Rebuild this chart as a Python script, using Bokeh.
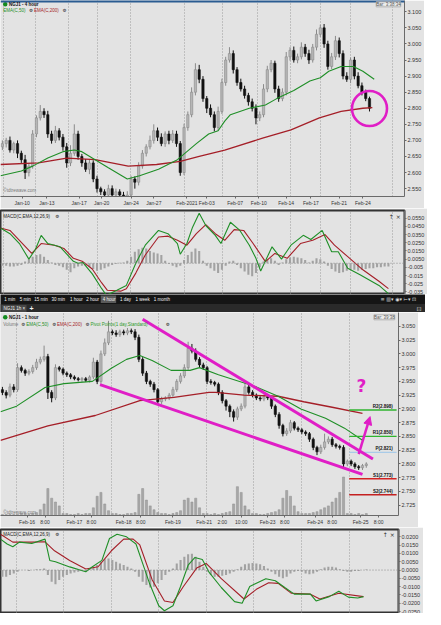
from bokeh.plotting import figure
from bokeh.layouts import column
from bokeh.models import (Range1d, FixedTicker, Span, Label, Arrow, NormalHead, Grid,
                          CustomJSTickFormatter)
from bokeh.embed import file_html
from bokeh.resources import INLINE

FONT = "Liberation Sans"
SYM = "DejaVu Sans"
BG = "#e3e3e3"
GREEN = "#1f8f27"
RED = "#a51f28"
MAG = "#e01ec6"
UPC, UPL, DNC = "#b6b6b6", "#8a8a8a", "#111111"

# ================= 4-hour chart (NGJ1) =================
h4_first_open = 2.68
h4_close = [2.69, 2.70, 2.67, 2.69, 2.66, 2.64, 2.60, 2.62, 2.72, 2.77,
            2.79, 2.78, 2.72, 2.70, 2.73, 2.71, 2.68, 2.63, 2.66, 2.72,
            2.65, 2.63, 2.61, 2.63, 2.58, 2.55, 2.54, 2.53, 2.55, 2.53,
            2.54, 2.53, 2.52, 2.53, 2.58, 2.57, 2.62, 2.66, 2.68, 2.70,
            2.73, 2.71, 2.69, 2.72, 2.70, 2.72, 2.69, 2.60, 2.74, 2.78,
            2.85, 2.92, 2.89, 2.83, 2.80, 2.78, 2.74, 2.79, 2.88, 2.95,
            2.97, 2.92, 2.88, 2.86, 2.84, 2.82, 2.80, 2.77, 2.78, 2.86,
            2.92, 2.94, 2.86, 2.83, 2.85, 2.96, 2.98, 2.95, 2.96, 2.99,
            2.97, 2.95, 2.99, 3.03, 3.05, 3.00, 2.93, 2.96, 3.01, 2.97,
            2.90, 2.89, 2.95, 2.90, 2.87, 2.85, 2.83, 2.80]
# upper / lower wick lengths in thousandths
h4_up = [10, 8, 12, 6, 10, 8, 15, 10, 12, 8, 20, 10, 12, 10, 15, 8, 10, 12, 25, 30,
         10, 8, 12, 10, 8, 10, 6, 8, 12, 10, 10, 8, 10, 12, 10, 8, 12, 10, 8, 15,
         20, 10, 12, 8, 10, 12, 10, 8, 12, 10, 15, 20, 15, 10, 8, 12, 10, 15, 12, 10,
         20, 10, 8, 12, 10, 8, 10, 12, 10, 15, 12, 10, 8, 10, 12, 15, 10, 12, 10, 15,
         10, 12, 10, 15, 10, 12, 10, 12, 15, 10, 10, 12, 8, 10, 12, 10, 8, 6]
h4_dn = [10, 12, 8, 10, 15, 10, 20, 12, 8, 10, 8, 10, 12, 10, 8, 10, 12, 15, 10, 8,
         10, 12, 8, 15, 10, 12, 10, 12, 8, 10, 12, 10, 8, 10, 12, 20, 10, 8, 10, 8,
         10, 12, 8, 10, 12, 8, 10, 10, 8, 10, 8, 10, 12, 10, 15, 8, 12, 10, 8, 10,
         8, 12, 10, 8, 10, 12, 10, 20, 10, 8, 10, 8, 12, 10, 8, 10, 12, 8, 10, 8,
         10, 12, 8, 10, 8, 12, 10, 8, 10, 12, 10, 8, 12, 10, 8, 10, 8, 10]
h4_ema50_x = [-0.5, 5, 8, 12, 16, 19, 21, 24.5, 28, 33, 36.25, 41.25, 46.25, 51.25, 54.5,
              57, 58.75, 60.25, 65.25, 69.5, 72.5, 77, 81.25, 84, 86.25, 89.5, 92.75, 95.25, 98.25]
h4_ema50 = [2.59, 2.605, 2.62, 2.645, 2.665, 2.67, 2.665, 2.64, 2.615, 2.58, 2.59, 2.61, 2.64,
            2.69, 2.72, 2.73, 2.76, 2.78, 2.80, 2.81, 2.83, 2.855, 2.885, 2.895, 2.915, 2.93,
            2.93, 2.915, 2.89]
h4_ema200_x = [-0.5, 9.5, 17, 24.5, 33.25, 40.75, 47, 52, 58.75, 68.75, 76.25, 83.75, 89.5, 95.25, 97.75]
h4_ema200 = [2.625, 2.63, 2.645, 2.64, 2.62, 2.625, 2.635, 2.65, 2.67, 2.707, 2.733, 2.77, 2.79, 2.80, 2.802]
h4_tick_pos = [5.25, 11.75, 20.25, 26.25, 34, 40, 48.75, 54, 61.5, 67.75, 75, 81.5, 89, 95.25]
h4_tick_lab = ["Jan-10", "Jan-13", "Jan-17", "Jan-20", "Jan-24", "Jan-27", "Feb-2021", "Feb-03",
               "Feb-07", "Feb-10", "Feb-14", "Feb-17", "Feb-21", "Feb-24"]
h4_grid = [0.25, 8.75, 17.5, 25.25, 33.75, 48.25, 58.25, 67.5, 76, 84, 92, 103]
h4_price_ticks = [2.55, 2.60, 2.65, 2.70, 2.75, 2.80, 2.85, 2.90, 2.95, 3.00, 3.05, 3.10]
h4_last = ["2.8000", "2.795"]
h4_circle = (97, 2.799)

h4_macd_x = [-0.5, 2, 4.5, 7, 8.75, 10.25, 12, 15.25, 18.75, 20, 21.25, 23.75, 26.25, 27.5, 30.25,
             32.75, 35.25, 37.75, 41.25, 43.75, 46.25, 47, 48.75, 50.25, 52, 53.75, 56.25, 57.75,
             60.25, 62.75, 65.25, 67, 68.25, 71.25, 73.75, 76.25, 79.5, 81.5, 84.5, 87, 88.75,
             91.25, 94.5, 99.5, 102]
h4_macd = [0.043, 0.036, 0.024, 0.005, 0.017, 0.034, 0.024, 0.020, 0.0024, 0.0, 0.001, -0.013,
           -0.031, -0.039, -0.033, -0.027, 0.0, 0.022, 0.040, 0.036, 0.024, 0.011, 0.024, 0.044,
           0.061, 0.046, 0.034, 0.024, 0.050, 0.040, 0.022, 0.006, -0.0095, 0.020, 0.005, 0.022,
           0.034, 0.029, 0.040, 0.014, 0.014, -0.006, -0.014, -0.027, -0.037]
h4_sig_x = [-0.5, 2, 4.5, 7.75, 10.25, 13.75, 16.25, 18.75, 21.25, 23.75, 26.25, 27.75, 31.25,
            32.75, 35.25, 37.75, 41.25, 43.75, 46.25, 48.75, 51.25, 53.75, 56.25, 58.75, 61.25,
            63.75, 66.25, 69.5, 72, 75.25, 78.75, 82, 85.25, 87.75, 91.25, 95.25, 99.5, 102]
h4_sig = [0.043, 0.040, 0.028, 0.012, 0.024, 0.022, 0.018, 0.006, 0.002, -0.007, -0.024, -0.033,
          -0.034, -0.031, -0.012, 0.010, 0.032, 0.033, 0.028, 0.022, 0.036, 0.047, 0.036, 0.028,
          0.041, 0.040, 0.024, 0.002, 0.012, 0.006, 0.024, 0.028, 0.035, 0.022, 0.008, -0.008,
          -0.022, -0.031]
# histogram, thousandths
h4_hist = [-3, -3, -4, -4, -3, -2, 2, 5, 8, 10, 11, 8, 4, 1, -2, -3, -5, -8, -11, -6,
           -4, -3, -3, -5, -7, -9, -8, -6, -4, -2, -1, 0.5, 1, 3, 8, 14, 17, 19, 18, 15,
           13, 12, 10, 3, -1, -3, -5, -3, 4, 10, 14, 18, 15, 3, -3, -6, -9, -12, -8, -3,
           2, 3, -2, -6, -10, -14, -16, -12, -5, 2, 5, 6, 3, -2, 1, 5, 7, 8, 7, 6,
           4, 1, 3, 6, 5, 2, -3, -7, -10, -12, -11, -9, -8, -8, -9, -8, -7, -6, -6, -5,
           -5, -4, -4]
h4_macd_ticks = [-0.035, -0.025, -0.015, -0.005, 0.005, 0.015, 0.025, 0.035, 0.045, 0.055]

# ================= 1-hour chart (NGJ1) =================
h1_first_open = 2.935
h1_close = [2.930, 2.925, 2.940, 2.935, 2.975, 2.970, 2.965, 2.968, 2.975, 2.985,
            2.990, 2.995, 2.930, 2.920, 2.975, 2.972, 2.965, 2.962, 2.958, 2.955,
            2.953, 2.955, 2.952, 2.958, 2.985, 2.950, 3.000, 3.020, 3.040, 3.038,
            3.035, 3.040, 3.038, 3.042, 3.040, 3.030, 2.990, 2.965, 2.950, 2.945,
            2.935, 2.913, 2.918, 2.920, 2.925, 2.935, 2.950, 2.960, 2.975, 3.010,
            3.005, 2.990, 2.980, 2.975, 2.950, 2.948, 2.945, 2.930, 2.915, 2.905,
            2.895, 2.885, 2.900, 2.905, 2.940, 2.930, 2.925, 2.920, 2.918, 2.922,
            2.920, 2.905, 2.890, 2.870, 2.855, 2.860, 2.875, 2.865, 2.862, 2.858,
            2.855, 2.845, 2.830, 2.822, 2.830, 2.840, 2.845, 2.835, 2.832, 2.830,
            2.800, 2.805, 2.800, 2.795, 2.793, 2.797, 2.800]
h1_up = [5, 4, 6, 5, 8, 4, 3, 4, 5, 6, 5, 20, 5, 4, 6, 3, 3, 3, 3, 3,
         3, 3, 3, 3, 8, 4, 6, 8, 20, 4, 5, 4, 4, 5, 4, 5, 5, 4, 4, 3,
         4, 3, 4, 3, 4, 5, 4, 5, 6, 12, 8, 5, 4, 4, 3, 4, 3, 3, 4, 3,
         3, 4, 4, 5, 10, 5, 4, 3, 3, 4, 4, 3, 3, 4, 3, 5, 5, 3, 3, 3,
         3, 3, 3, 3, 5, 15, 5, 4, 3, 3, 4, 3, 3, 3, 3, 3, 3]
h1_dn = [5, 6, 4, 5, 4, 4, 5, 4, 4, 4, 4, 4, 12, 8, 4, 4, 4, 4, 4, 3,
         3, 4, 3, 4, 4, 5, 4, 4, 4, 4, 4, 4, 4, 4, 4, 5, 5, 5, 5, 5,
         5, 6, 4, 4, 4, 4, 4, 4, 4, 4, 4, 4, 4, 4, 5, 4, 4, 5, 5, 8,
         10, 8, 5, 4, 4, 4, 4, 4, 4, 4, 4, 5, 5, 6, 5, 4, 4, 4, 4, 4,
         4, 5, 5, 6, 4, 4, 4, 4, 4, 4, 8, 4, 4, 4, 4, 4, 4]
h1_vol = [1, 1, 1, 1, 1, 2, 2, 1, 2, 3, 6, 12, 28, 18, 14, 10, 2, 2, 1, 1, 2, 1, 2, 2,
          8, 20, 24, 12, 5, 2, 2, 1, 1, 2, 2, 3, 22, 28, 16, 10, 6, 3, 2, 2, 1, 2, 3, 5,
          16, 18, 14, 18, 8, 2, 2, 1, 2, 1, 2, 3, 4, 12, 30, 24, 10, 6, 2, 2, 1, 1, 2, 3,
          4, 6, 18, 26, 20, 10, 4, 2, 2, 2, 3, 4, 6, 8, 10, 14, 18, 24, 40, 2, 2, 1, 2, 1, 2]
h1_ema50_x = [-0.5, 3.75, 11.25, 16.25, 23.75, 28.75, 32.75, 36.25, 39.5, 44.5, 49.5, 52, 57, 67,
              72.75, 78.75, 85.25, 90.25, 95]
h1_ema50 = [2.895, 2.905, 2.939, 2.946, 2.95, 2.974, 2.99, 2.997, 2.988, 2.97, 2.97, 2.975, 2.962,
            2.94, 2.923, 2.90, 2.883, 2.865, 2.843]
h1_ema200_x = [-0.5, 12, 24.5, 36.25, 45.25, 54.5, 56.25, 63.75, 72.75, 79.5, 87, 95]
h1_ema200 = [2.843, 2.869, 2.888, 2.915, 2.921, 2.93, 2.93, 2.925, 2.923, 2.913, 2.903, 2.892]
h1_tick_pos = [6.5, 11.25, 19, 23.5, 32, 36.5, 45, 53.25, 58, 63, 70, 74.5, 82.5, 87, 94.5, 99.25]
h1_tick_lab = ["Feb-16", "8:00", "Feb-17", "8:00", "Feb-18", "8:00", "Feb-19", "Feb-21", "2:00",
               "10:00", "Feb-23", "8:00", "Feb-24", "8:00", "Feb-25", "8:00"]
h1_grid = [3.75, 16.25, 28.75, 41.25, 53.75, 66.25, 79, 91.5]
h1_price_ticks = [2.725, 2.750, 2.775, 2.800, 2.825, 2.850, 2.875, 2.900, 2.925, 2.950, 2.975,
                  3.000, 3.025, 3.050]
h1_last = ["2.8000", "2.795"]
pivot_names = ["R2", "R1", "P", "S1", "S2"]
pivot_levels = [2.898, 2.850, 2.821, 2.773, 2.744]
pivot_colors = ["#2fb52f", "#2fb52f", "#a9cbe8", "#d32222", "#c42020"]
pivot_span = [91.5, 104]
wedge_upper_x, wedge_upper_y = [37, 97.75], [3.063, 2.809]
wedge_lower_x, wedge_lower_y = [25.75, 95], [2.944, 2.781]
arrow_from, arrow_to = (94, 2.818), (97, 2.886)
question_at = (94.75, 2.941)

h1_macd_x = [-0.5, 1.25, 2.75, 4.5, 7.75, 11.25, 12.5, 14, 17.75, 22, 23.75, 26.25, 28.25, 30.25,
             32.75, 35.25, 37, 38.75, 41.25, 42.75, 45, 47, 49, 50.75, 52.75, 54.5, 57.75, 61.25,
             63.25, 65.25, 69.5, 72, 74.5, 77, 81.25, 82.75, 86.25, 88.75, 91.25, 93.75, 95.25]
h1_macd = [0.0186, 0.0157, 0.014, 0.0168, 0.016, 0.0186, 0.0058, 0.005, 0.0019, -0.001, 0.002,
           0.0058, 0.019, 0.0215, 0.020, 0.0157, 0.004, -0.0076, -0.0215, -0.0245, -0.0215,
           -0.0099, 0.0029, 0.0075, 0.0064, -0.0012, -0.0105, -0.019, -0.020, -0.0099, -0.0052,
           -0.0064, -0.0105, -0.0145, -0.0145, -0.0186, -0.016, -0.0128, -0.0163, -0.0168, -0.016]
h1_sig_x = [-0.5, 2.75, 7.75, 11.25, 13.75, 17.75, 22, 25.25, 28.75, 32, 34.5, 36.25, 39.5, 42.75,
            45, 47.75, 51.25, 53.75, 57.75, 63.75, 67, 70.25, 72.75, 76.25, 81.25, 83.75, 88.75, 95.25]
h1_sig = [0.0215, 0.0168, 0.0168, 0.017, 0.0116, 0.0058, 0.0006, 0.002, 0.0116, 0.0186, 0.0186,
          0.0151, -0.0058, -0.0186, -0.0195, -0.0099, 0.0012, 0.004, -0.0052, -0.0174, -0.0116,
          -0.0076, -0.008, -0.014, -0.0145, -0.0174, -0.014, -0.016]
h1_hist = [-4, -4, -3, -2, -1, 0, 0, -0.5, 0, 0.5, 0.5, 1,
           -3, -7, -8.5, -6, -4, -3, -2, -1.5, -1, -0.5, -0.5, 0.5, 1.5,
           3, 5, 6.5, 7, 6, 5, 4, 3, 2, 1, -1, -4,
           -7, -9, -10.5, -10, -8, -6, -3, -1, 1, 4, 6, 8,
           9.5, 9.8, 8, 5, 2, -1, -3, -4, -4, -3.5, -3, -2,
           -1, 0.5, 2, 3.5, 4, 4.2, 4, 3.5, 2.5, 1, -1, -2.5,
           -4, -5, -4, -2, -1, -0.5, -1, -2, -2.5, -2, -1, 0.5,
           1.5, 2, 2, 1.5, 0.5, -0.5, -1, -1, -0.5, -0.5, 0, 0.3]
h1_macd_ticks = [-0.025, -0.02, -0.015, -0.01, -0.005, 0.0, 0.005, 0.01, 0.015, 0.02]

timeframes = ["1 min", "5 min", "15 min", "30 min", "1 hour", "2 hour", "4 hour", "1 day",
              "1 week", "1 month"]


# ---------------- placement helpers for annotations (reference pixels) ----------------
def px_x(px):
    return (px - 2) / 4.0


def h4_y(py):
    return 3.0 - (py - 47) / 333.0


def h1_y(py):
    return 3.0 - (py - 361) / 572.0


def m4_y(py):
    return (267 - py) / 840.0


def m1_y(py):
    return (580 - py) * 0.000581


def xfmt(pos, lab):
    return CustomJSTickFormatter(args=dict(pos=pos, lab=lab), code="""
        for (let i = 0; i < pos.length; i++) { if (Math.abs(pos[i] - tick) < 1e-6) return lab[i]; }
        return "";""")


def make_fig(fw, fh, xr, yr, xaxis, yticks, ycode, grid_pos, xpos=None, xlab=None):
    p = figure(frame_width=fw, frame_height=fh, x_range=xr, y_range=yr,
               y_axis_location="right", x_axis_location="below" if xaxis else None,
               toolbar_location=None, output_backend="svg",
               background_fill_color=BG, border_fill_color=BG,
               min_border_left=0, min_border_right=0, min_border_top=0, min_border_bottom=0)
    p.xgrid.visible = False
    p.ygrid.visible = False
    p.add_layout(Grid(dimension=0, ticker=FixedTicker(ticks=grid_pos), grid_line_color="#9a9a9a",
                      grid_line_dash="1 2", grid_line_width=1))
    ax = p.yaxis[0]
    ax.ticker = FixedTicker(ticks=yticks)
    ax.formatter = CustomJSTickFormatter(code=ycode)
    for a in [ax] + (list(p.xaxis) if xaxis else []):
        a.major_label_text_font = FONT
        a.major_label_text_font_size = "5.5px"
        a.major_label_text_color = "#333333"
        a.major_tick_in = 0
        a.major_tick_out = 2
        a.minor_tick_in = 0
        a.minor_tick_out = 0
        a.major_label_standoff = 1
        a.axis_line_color = "#6a6a6a"
        a.major_tick_line_color = "#6a6a6a"
    if xaxis:
        xa = p.xaxis[0]
        xa.ticker = FixedTicker(ticks=xpos)
        xa.formatter = xfmt(xpos, xlab)
        xa.major_label_text_font_size = "5px"
    p.outline_line_color = None
    return p


def draw_candles(p, close, up, dn, first_open, w):
    n = len(close)
    x = list(range(n))
    o = [first_open] + close[:-1]
    top = [max(a, b) for a, b in zip(o, close)]
    bot = [min(a, b) for a, b in zip(o, close)]
    bot = [b if t - b > 0.0015 else t - 0.0015 for t, b in zip(top, bot)]
    hi = [t + u / 1000 for t, u in zip(top, up)]
    lo = [b - d / 1000 for b, d in zip(bot, dn)]
    rising = [c >= a for a, c in zip(o, close)]
    fill = [UPC if r else DNC for r in rising]
    line = [UPL if r else DNC for r in rising]
    p.segment(x0=x, y0=lo, x1=x, y1=hi, line_color=line, line_width=1)
    p.vbar(x=x, width=w, top=top, bottom=bot, fill_color=fill, line_color=line, line_width=0.6)


def label(p, x, y, text, color="#222222", size="4.5px", bold=False, font=FONT, align="left",
          baseline="middle", **kw):
    p.add_layout(Label(x=x, y=y, text=text, text_color=color, text_font_size=size,
                       text_font=font, text_font_style="bold" if bold else "normal",
                       text_align=align, text_baseline=baseline, **kw))


def legend_row(p, items, px_start, y, gap=2.5, cw=2.75):
    px = px_start
    for text, color, font in items:
        label(p, px_x(px), y, text, color=color, font=font)
        px += len(text) * cw + gap


GEAR = "\u2699"

# ================= top price (4 hour) =================
xr4 = Range1d(-0.5, 106.25)
p1 = make_fig(404, 196, xr4, Range1d(h4_y(205), h4_y(2)), True, h4_price_ticks,
              "return tick.toFixed(3);", h4_grid, h4_tick_pos, h4_tick_lab)
p1.add_layout(Span(location=h4_y(2), dimension="width", line_color="#2b5c91", line_width=4))
draw_candles(p1, h4_close, h4_up, h4_dn, h4_first_open, 0.6)
p1.line(h4_ema200_x, h4_ema200, line_color=RED, line_width=1.3)
p1.line(h4_ema50_x, h4_ema50, line_color=GREEN, line_width=1.1)
p1.scatter(x=[h4_circle[0]], y=[h4_circle[1]], marker="circle", size=35, fill_color=None,
           line_color=MAG, line_width=2.6)
p1.scatter(x=[px_x(5)], y=[h4_y(6)], marker="circle", size=4.5, fill_color="#148a1e", line_color=None)
label(p1, px_x(9), h4_y(6), "NGJ1 - 4 hour", bold=True, color="#111111")
legend_row(p1, [("EMA(C,50)", GREEN, FONT), (GEAR, "#222222", SYM), ("EMA(C,200)", RED, FONT),
                (GEAR, "#222222", SYM)], 3, h4_y(12.5))
label(p1, px_x(423), h4_y(6), "Bar: 3:38:34", color="#555555", size="4.5px", align="right",
      background_fill_color="#eeeeee", border_line_color="#b0b0b0")
label(p1, px_x(3), h4_y(199), "\u00a9tdtrewave.com", color="#777777", size="4.5px")
label(p1, xr4.end, h4_y(111), h4_last[0], color="white", size="5px", x_offset=1,
      background_fill_color="#3f6fa6")
label(p1, xr4.end, h4_y(117), h4_last[1], color="#222222", size="5px", x_offset=1,
      background_fill_color="#ffffff", border_line_color=RED)

# ================= top MACD =================
p2 = make_fig(404, 84, xr4, Range1d(m4_y(299), m4_y(213)), False, h4_macd_ticks,
              "return tick.toFixed(4).slice(0, 6);", h4_grid)
p2.min_border_top = 2
p2.outline_line_color = "#333333"
p2.outline_line_width = 2
p2.add_layout(Span(location=0, dimension="width", line_color="#8a8a8a", line_dash="1 2", line_width=1))
p2.vbar(x=list(range(len(h4_hist))), width=0.55, top=[v / 1000 for v in h4_hist], bottom=0,
        fill_color="#a2a2a2", line_color=None)
p2.line(h4_sig_x, h4_sig, line_color=RED, line_width=1.1)
p2.line(h4_macd_x, h4_macd, line_color=GREEN, line_width=1.1)
legend_row(p2, [("MACD(C,EMA,12,26,9)", "#222222", FONT), (GEAR, "#222222", SYM)], 3, m4_y(219))
label(p2, px_x(423), m4_y(219), "\u2191 \u00d7", color="#333333", size="6px", font=SYM, align="right")

# ================= toolbar strip =================
tb = figure(frame_width=425, frame_height=18, x_range=Range1d(0, 441), y_range=Range1d(18, 0),
            x_axis_location=None, y_axis_location=None, toolbar_location=None,
            output_backend="svg", background_fill_color="#151515", border_fill_color="#151515",
            min_border=0, outline_line_color=None)
tb.xgrid.visible = False
tb.ygrid.visible = False
tb.quad(left=[0], right=[441], top=[9.5], bottom=[18], fill_color="#2a2a2a", line_color=None)
tb.quad(left=[104], right=[120], top=[1], bottom=[8.5], fill_color="#5a5a5a", line_color=None)
tb.quad(left=[1], right=[27], top=[10.5], bottom=[18], fill_color="#474747", line_color=None)
tf_px = [4, 20, 35, 53, 72, 89, 106, 124, 140, 159]
for t, xx in zip(timeframes, tf_px):
    label(tb, xx, 4.8, t, color="#f2f2f2", size="4.5px")
label(tb, 438, 4.8, "\u2261  \u25a5\u25be  \u25c9\u25be  \u22a2\u25be  \u22a1", color="#dddddd",
      size="5px", font=SYM, align="right")
label(tb, 3, 14.2, "NGJ1 1h  \u00d7", color="#f2f2f2", size="4.5px")
label(tb, 30, 14.2, "+", color="#f2f2f2", size="7px", bold=True)
label(tb, 437, 14.2, "\u22a1", color="#dddddd", size="6px", font=SYM, align="right")

# ================= bottom price (1 hour) =================
xr1 = Range1d(-0.5, 104.5)
p3 = make_fig(398, 203, xr1, Range1d(h1_y(529), h1_y(318)), True, h1_price_ticks,
              "return tick.toFixed(3);", h1_grid, h1_tick_pos, h1_tick_lab)
p3.extra_y_ranges = {"vol": Range1d(0, 211)}
p3.vbar(x=list(range(len(h1_vol))), width=0.55, top=h1_vol, bottom=0, y_range_name="vol",
        fill_color="#a8a8a8", line_color="#8e8e8e", line_width=0.5)
draw_candles(p3, h1_close, h1_up, h1_dn, h1_first_open, 0.6)
p3.line(h1_ema200_x, h1_ema200, line_color=RED, line_width=1.3)
p3.line(h1_ema50_x, h1_ema50, line_color=GREEN, line_width=1.1)
for name, lev, col in zip(pivot_names, pivot_levels, pivot_colors):
    p3.line(pivot_span, [lev, lev], line_color=col, line_width=1.4)
    label(p3, px_x(414), lev, f"{name}({lev:.3f})", color="#111111", size="4.5px", bold=True,
          align="right", baseline="bottom", y_offset=1)
p3.line(wedge_upper_x, wedge_upper_y, line_color=MAG, line_width=3)
p3.line(wedge_lower_x, wedge_lower_y, line_color=MAG, line_width=3)
p3.add_layout(Arrow(end=NormalHead(size=8, fill_color=MAG, line_color=MAG),
                    x_start=arrow_from[0], y_start=arrow_from[1], x_end=arrow_to[0], y_end=arrow_to[1],
                    line_color=MAG, line_width=2.5))
label(p3, question_at[0], question_at[1], "?", color=MAG, size="17px", bold=True, font=SYM,
      align="center")
p3.scatter(x=[px_x(5)], y=[h1_y(323)], marker="circle", size=4.5, fill_color="#148a1e", line_color=None)
label(p3, px_x(9), h1_y(323), "NGJ1 - 1 hour", bold=True, color="#111111")
legend_row(p3, [("Volume", "#777777", FONT), (GEAR, "#222222", SYM), ("EMA(C,50)", GREEN, FONT),
                (GEAR, "#222222", SYM), ("EMA(C,200)", RED, FONT), (GEAR, "#222222", SYM),
                ("Pivot Points(1 day,Standard)", "#2a9a2a", FONT), (GEAR, "#222222", SYM)],
           3, h1_y(330))
label(p3, px_x(416), h1_y(323), "Bar: 39:38", color="#555555", size="4.5px", align="right",
      background_fill_color="#eeeeee", border_line_color="#b0b0b0")
label(p3, px_x(3), h1_y(526), "\u00a9tdtrewave.com", color="#777777", size="4.5px")
label(p3, xr1.end, h1_y(470), h1_last[0], color="white", size="5px", x_offset=1,
      background_fill_color="#3f6fa6")
label(p3, xr1.end, h1_y(477), h1_last[1], color="#222222", size="5px", x_offset=1,
      background_fill_color="#ffffff", border_line_color=RED)

# ================= bottom MACD =================
p4 = make_fig(398, 84, xr1, Range1d(m1_y(625), m1_y(538)), False, h1_macd_ticks,
              "return tick.toFixed(4);", h1_grid)
p4.min_border_top = 2
p4.outline_line_color = "#333333"
p4.outline_line_width = 2
p4.add_layout(Span(location=0, dimension="width", line_color="#8a8a8a", line_dash="1 2", line_width=1))
p4.vbar(x=list(range(len(h1_hist))), width=0.55, top=[v / 1000 for v in h1_hist], bottom=0,
        fill_color="#a2a2a2", line_color=None)
p4.line(h1_sig_x, h1_sig, line_color=RED, line_width=1.1)
p4.line(h1_macd_x, h1_macd, line_color=GREEN, line_width=1.1)
legend_row(p4, [("MACD(C,EMA,12,26,9)", "#222222", FONT), (GEAR, "#222222", SYM)], 3, m1_y(543))
label(p4, px_x(416), m1_y(543), "\u2191 \u00d7", color="#333333", size="6px", font=SYM, align="right")

layout = column(p1, p2, tb, p3, p4, spacing=0)
open("out.html", "w").write(file_html(layout, INLINE))
